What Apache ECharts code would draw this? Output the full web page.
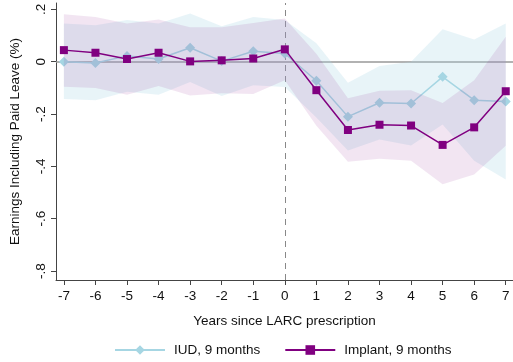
<!DOCTYPE html>
<html>
<head>
<meta charset="utf-8">
<script src="https://cdn.jsdelivr.net/npm/echarts@6/dist/echarts.min.js"></script>
<style>html,body{margin:0;padding:0;background:#fff}#c{width:513px;height:362px}</style>
</head>
<body>
<div id="c"></div>
<script>
var years = [-7,-6,-5,-4,-3,-2,-1,0,1,2,3,4,5,6,7];
var iud =    [0.000,-0.005,0.022,0.010,0.053,0.002,0.040,0.031,-0.073,-0.210,-0.157,-0.160,-0.058,-0.147,-0.152];
var iudLo =  [-0.143,-0.147,-0.115,-0.126,-0.078,-0.131,-0.090,-0.097,-0.213,-0.339,-0.297,-0.320,-0.240,-0.379,-0.450];
var iudHi =  [0.146,0.139,0.159,0.146,0.184,0.135,0.171,0.159,0.070,-0.081,-0.017,0.000,0.124,0.085,0.146];
var imp =    [0.044,0.034,0.010,0.034,0.001,0.005,0.012,0.047,-0.109,-0.261,-0.241,-0.244,-0.318,-0.251,-0.113];
var impLo =  [-0.096,-0.101,-0.126,-0.093,-0.129,-0.121,-0.124,-0.071,-0.245,-0.382,-0.371,-0.379,-0.468,-0.431,-0.321];
var impHi =  [0.181,0.171,0.146,0.161,0.131,0.131,0.148,0.165,0.030,-0.140,-0.111,-0.109,-0.158,-0.071,0.095];
var xTicks = [-7,-6,-5,-4,-3,-2,-1,0,1,2,3,4,5,6,7];
var yTicks = [-0.8,-0.6,-0.4,-0.2,0,0.2];

function pairs(v){ return years.map(function(x,i){ return [x, v[i]]; }); }
function triples(lo, hi){ return years.map(function(x,i){ return [x, lo[i], hi[i]]; }); }
function fmt(v){
  if (Math.abs(v) < 1e-9) return '0';
  var s = (Math.round(v*10)/10).toString();
  return s.replace('0.', '.');
}
function bandRenderer(color){
  return function(params, api){
    if (params.dataIndex !== 0) return null;
    var top = [], bot = [];
    for (var i = 0; i < years.length; i++) {
      top.push(api.coord([api.value(0, i), api.value(2, i)]));
      bot.push(api.coord([api.value(0, i), api.value(1, i)]));
    }
    var pts = top.concat(bot.reverse());
    return {
      type: 'polygon',
      shape: {points: pts},
      style: {fill: color, stroke: null}
    };
  };
}
var font = 'Liberation Sans, Arial, sans-serif';
var chart = echarts.init(document.getElementById('c'), null, {renderer:'canvas'});
chart.setOption({
  animation: false,
  backgroundColor: '#fff',
  grid: {left: 54, right: 0, top: 3, bottom: 82, containLabel: false},
  legend: {
    data: ['IUD, 9 months', 'Implant, 9 months'],
    left: 109, top: 338,
    itemWidth: 50, itemHeight: 12, itemGap: 24,
    textStyle: {fontFamily: font, fontSize: 13.5, color: '#111', padding: [0, 0, 0, 4]},
  },
  xAxis: {
    type: 'value', min: -7.25, max: 7.23,
    name: 'Years since LARC prescription', nameLocation: 'middle', nameGap: 34,
    nameTextStyle: {fontFamily: font, fontSize: 13.5, color: '#111'},
    axisLine: {show: true, onZero: false, lineStyle: {color: '#444', width: 1}},
    axisTick: {show: true, length: 5, customValues: xTicks, lineStyle: {color: '#444'}},
    axisLabel: {customValues: xTicks, margin: 9, fontFamily: font, fontSize: 13.5, color: '#111'},
    splitLine: {show: false}
  },
  yAxis: {
    type: 'value', min: -0.834, max: 0.224,
    name: 'Earnings Including Paid Leave (%)', nameLocation: 'middle', nameGap: 34,
    nameTextStyle: {fontFamily: font, fontSize: 13.5, color: '#111'},
    axisLine: {show: true, onZero: false, lineStyle: {color: '#444', width: 1}},
    axisTick: {show: true, length: 5, customValues: yTicks, lineStyle: {color: '#444'}},
    axisLabel: {customValues: yTicks, rotate: 90, margin: 8, fontFamily: font, fontSize: 13.5, color: '#111', formatter: fmt},
    splitLine: {show: false}
  },
  series: [
    {
      type: 'line', name: 'ref', data: [], z: 1,
      markLine: {
        silent: true, symbol: 'none', z: 1, label: {show: false},
        data: [
          {yAxis: 0, lineStyle: {color: '#999', width: 1.5, type: 'solid'}},
          {xAxis: 0, lineStyle: {color: '#888', width: 1, type: [6, 5]}}
        ]
      }
    },
    {
      type: 'custom', name: 'iudBand', data: triples(iudLo, iudHi), z: 2, silent: true,
      encode: {x: 0, y: [1, 2]}, clip: true,
      renderItem: bandRenderer('rgba(173,216,230,0.28)')
    },
    {
      type: 'line', name: 'IUD, 9 months', data: pairs(iud), z: 3,
      symbol: 'diamond', symbolSize: 10,
      itemStyle: {color: '#a6d6e3'}, lineStyle: {color: '#a6d6e3', width: 1.5}
    },
    {
      type: 'custom', name: 'impBand', data: triples(impLo, impHi), z: 4, silent: true,
      encode: {x: 0, y: [1, 2]}, clip: true,
      renderItem: bandRenderer('rgba(128,0,128,0.1)')
    },
    {
      type: 'line', name: 'Implant, 9 months', data: pairs(imp), z: 5,
      symbol: 'rect', symbolSize: 8,
      itemStyle: {color: '#800080'}, lineStyle: {color: '#800080', width: 1.5}
    }
  ]
});
</script>
</body>
</html>
